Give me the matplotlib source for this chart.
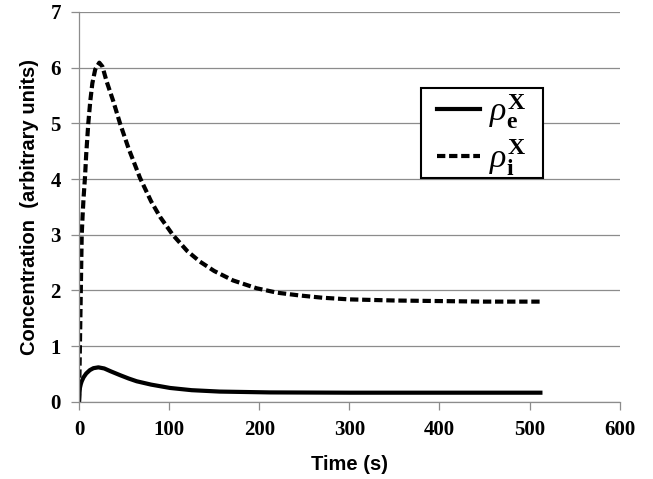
import numpy as np
import matplotlib
matplotlib.use('Agg')
import matplotlib.pyplot as plt
from matplotlib.patches import Rectangle

# data
t_i = [0, 1, 2, 3, 4, 5, 6.7, 8, 10.3, 12.5, 14.8, 18, 22.5, 26, 30.7, 38,
       45.5, 55, 67.7, 80, 90, 104, 120, 134, 150, 171, 197, 220, 245, 270,
       300, 350, 400, 450, 512]
rho_i = [0, 1.0, 2.0, 3.0, 3.35, 3.65, 4.05, 4.45, 5.0, 5.4, 5.72, 5.97, 6.09,
         6.02, 5.75, 5.4, 5.0, 4.55, 4.02, 3.6, 3.32, 3.0, 2.71, 2.52, 2.35,
         2.18, 2.04, 1.96, 1.91, 1.87, 1.84, 1.82, 1.81, 1.8, 1.8]

t_e = [0, 0.5, 1, 2, 3, 5, 8, 12, 16, 21.5, 28, 35, 45.5, 55, 64, 80, 101,
       125, 156, 212, 300, 400, 512]
rho_e = [0, 0.15, 0.25, 0.32, 0.37, 0.44, 0.51, 0.57, 0.605, 0.62, 0.6, 0.55,
         0.48, 0.42, 0.37, 0.31, 0.25, 0.21, 0.185, 0.17, 0.165, 0.165, 0.165]

x_ticks = [0, 100, 200, 300, 400, 500, 600]
y_ticks = [0, 1, 2, 3, 4, 5, 6, 7]

plt.rcParams['mathtext.fontset'] = 'custom'
plt.rcParams['mathtext.it'] = 'Liberation Serif:italic'
plt.rcParams['mathtext.bf'] = 'Liberation Serif:bold'
plt.rcParams['mathtext.rm'] = 'Liberation Serif'

fig = plt.figure(figsize=(6.53, 4.79), dpi=100)
ax = fig.add_axes([0.121, 0.161, 0.828, 0.814])

ax.plot(t_e, rho_e, color='black', lw=3.0, label=r'$\rho_{\mathbf{e}}^{\mathbf{X}}$')
ax.plot(t_i, rho_i, color='black', lw=3.0, ls=(0, (2.0, 0.9)),
        label=r'$\rho_{\mathbf{i}}^{\mathbf{X}}$')

ax.set_xlim(0, 600)
ax.set_ylim(0, 7)
ax.set_xticks(x_ticks)
ax.set_yticks(y_ticks)
ax.grid(axis='y', color='#8c8c8c', lw=0.9)
ax.set_axisbelow(True)
for s in ['top', 'right']:
    ax.spines[s].set_visible(False)
for s in ['left', 'bottom']:
    ax.spines[s].set_color('#8c8c8c')
    ax.spines[s].set_linewidth(0.9)
ax.tick_params(length=6, width=0.9, color='#8c8c8c', pad=7)
for lab in ax.get_xticklabels() + ax.get_yticklabels():
    lab.set_fontfamily('Liberation Serif')
    lab.set_fontweight('bold')
    lab.set_fontsize(15)

ax.set_xlabel('Time (s)', fontfamily='Liberation Sans', fontweight='bold',
              fontsize=14.5, labelpad=11)
ax.set_ylabel('Concentration  (arbitrary units)', fontfamily='Liberation Sans',
              fontweight='bold', fontsize=14.5, labelpad=8)

# legend box drawn separately so its size can match the original
box = Rectangle((0.632, 0.573), 0.226, 0.233, transform=ax.transAxes,
                facecolor='white', edgecolor='black', lw=1.5, zorder=4)
ax.add_patch(box)
leg = ax.legend(loc='upper left', bbox_to_anchor=(0.662, 0.795), fontsize=24.5,
                frameon=False, handlelength=1.27, handletextpad=0.25,
                borderpad=0, labelspacing=0.2, borderaxespad=0)
leg.set_zorder(5)

fig.savefig('out.png', dpi=100)
